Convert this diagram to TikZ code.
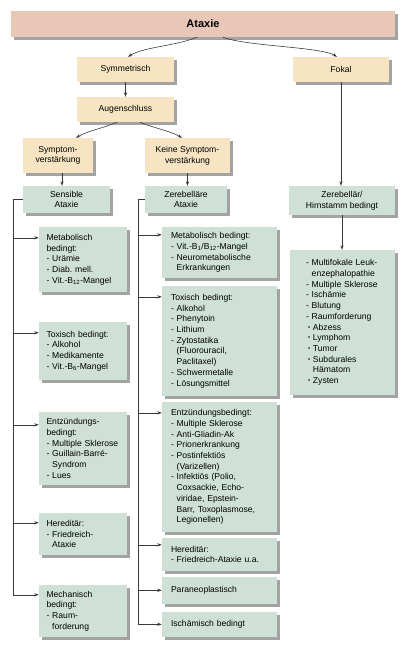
\documentclass[tikz,border=0pt]{standalone}
\usepackage{fontspec}
\setmainfont{Liberation Sans}
\usetikzlibrary{positioning,shadows,arrows.meta}
\definecolor{kopf}{HTML}{E8C6B8}
\definecolor{gelb}{HTML}{F6E4C2}
\definecolor{gruen}{HTML}{CFE1D7}
\definecolor{linie}{HTML}{3A3A3A}
\newcommand\ein{\hphantom{-\ }}
\newcommand\bul{\hspace*{2pt}\raisebox{0.9pt}{\fontsize{6}{6}\selectfont\textbullet}\ }

\begin{document}
\begin{tikzpicture}[x=1pt,y=-1pt]
    \tikzset{
        kasten/.style={fill=#1,inner sep=0pt,font=\fontsize{8.6}{10.7}\selectfont,
            drop shadow={shadow xshift=3pt,shadow yshift=-3pt,fill=black!36,opacity=1}},
        mitte/.style={kasten=#1,align=center},
        links/.style={kasten=gruen,align=left,text width=73,inner xsep=7.5,minimum width=88},
        mittel/.style={kasten=gruen,align=left,text width=97,inner xsep=9,minimum width=115},
        pfeil/.style={draw=linie,line width=0.6pt,-{Stealth[length=4.5pt,width=3.2pt]}},
        linie/.style={draw=linie,line width=0.6pt}}
    \useasboundingbox (0,0) rectangle (409,651);
    % oben
    \node[mitte=kopf,minimum width=384,minimum height=26,font=\fontsize{11}{13}\selectfont\bfseries] (ataxie) at (203,24) {Ataxie};
    \node[mitte=gelb,minimum width=97,minimum height=25] (sym) at (125.5,69.5) {Symmetrisch};
    \node[mitte=gelb,minimum width=96,minimum height=25] (fokal) at (341,69.5) {Fokal};
    \node[mitte=gelb,minimum width=97,minimum height=25] (auge) at (125.5,109.5) {Augenschluss};
    \node[mitte=gelb,minimum width=70,minimum height=35] (sv) at (58,155.5) {Symptom-\\verstärkung};
    \node[mitte=gelb,minimum width=85,minimum height=35] (ksv) at (187.5,155.5) {Keine Symptom-\\verstärkung};
    \node[mitte=gruen,minimum width=87,minimum height=27] (sens) at (66.5,199.5) {Sensible\\Ataxie};
    \node[mitte=gruen,minimum width=82,minimum height=27] (zer) at (186,199.5) {Zerebelläre\\Ataxie};
    \node[mitte=gruen,minimum width=106,minimum height=29] (zh) at (342,200.5) {Zerebellär/\\Hirnstamm bedingt};
    % links
    \node[links,minimum height=65] (lmet) at (83,259.5) {Metabolisch\\bedingt:\\- Urämie\\- Diab.\ mell.\\- Vit.-B\textsubscript{12}-Mangel};
    \node[links,minimum height=58] (ltox) at (83,351) {Toxisch bedingt:\\- Alkohol\\- Medikamente\\- Vit.-B\textsubscript{6}-Mangel};
    \node[links,minimum height=73] (lentz) at (83,448.5) {Entzündungs-\\bedingt:\\- Multiple Sklerose\\- Guillain-Barré-\\\ein Syndrom\\- Lues};
    \node[links,minimum height=42] (lher) at (83,534) {Hereditär:\\- Friedreich-\\\ein Ataxie};
    \node[links,minimum height=52] (lmech) at (83,611) {Mechanisch\\bedingt:\\- Raum-\\\ein forderung};
    % mitte
    \node[mittel,minimum height=51] (mmet) at (219.5,252.5) {Metabolisch bedingt:\\- Vit.-B\textsubscript{1}/B\textsubscript{12}-Mangel\\- Neurometabolische\\\ein Erkrankungen};
    \node[mittel,minimum height=110] (mtox) at (219.5,341) {Toxisch bedingt:\\- Alkohol\\- Phenytoin\\- Lithium\\- Zytostatika\\\ein(Fluorouracil,\\\ein Paclitaxel)\\- Schwermetalle\\- Lösungsmittel};
    \node[mittel,minimum height=130] (mentz) at (219.5,467) {Entzündungsbedingt:\\- Multiple Sklerose\\- Anti-Gliadin-Ak\\- Prionerkrankung\\- Postinfektiös\\\ein(Varizellen)\\- Infektiös (Polio,\\\ein Coxsackie, Echo-\\\ein viridae, Epstein-\\\ein Barr, Toxoplasmose,\\\ein Legionellen)};
    \node[mittel,minimum height=33] (mher) at (219.5,554.5) {Hereditär:\\- Friedreich-Ataxie u.a.};
    \node[mittel,minimum height=27] (mpar) at (219.5,590.5) {Paraneoplastisch};
    \node[mittel,minimum height=25] (misc) at (219.5,624.5) {Ischämisch bedingt};
    % rechts
    \node[kasten=gruen,align=left,text width=73,inner xsep=16,minimum height=145] (flist) at (342.5,322.5) {- Multifokale Leuk-\\\ein enzephalopathie\\- Multiple Sklerose\\- Ischämie\\- Blutung\\- Raumforderung\\\bul Abzess\\\bul Lymphom\\\bul Tumor\\\bul Subdurales\\\hphantom{\bul}Hämatom\\\bul Zysten};
    % pfeile
    \draw[pfeil] ([xshift=-6pt]ataxie.south) .. controls +(-22,9) and +(16,-10) .. ([xshift=2.5pt]sym.north);
    \draw[pfeil] ([xshift=20pt]ataxie.south) .. controls +(22,9) and +(-16,-10) .. ([xshift=-4pt]fokal.north);
    \draw[pfeil] (sym) -- (auge);
    \draw[pfeil] ([xshift=-8.5pt]auge.south) .. controls +(-14,6) and +(12,-7) .. ([xshift=18pt]sv.north);
    \draw[pfeil] ([xshift=14.5pt]auge.south) .. controls +(14,6) and +(-12,-7) .. ([xshift=-5.5pt]ksv.north);
    \draw[pfeil] ([xshift=4pt]sv.south) -- ([xshift=4pt]sv.south |- sens.north);
    \draw[pfeil] (ksv.south) -- (ksv.south |- zer.north);
    \draw[pfeil] (fokal.south) -- (fokal.south |- zh.north);
    \draw[pfeil] (zh.south) -- (zh.south |- flist.north);
    \coordinate (lstamm) at (13,0);
    \coordinate (mstamm) at (138,0);
    \foreach \n/\d in {lmet/11,ltox/11,lentz/13,lher/10,lmech/10,mmet/8,mtox/11,mentz/11,mher/7,mpar/13.5,misc/12.5}
        \coordinate (\n-in) at ([yshift=-\d pt]\n.north west);
    \draw[linie] (sens.west) -- (sens.west -| lstamm) -- (lmech-in -| lstamm);
    \draw[linie] (zer.west) -- (zer.west -| mstamm) -- (misc-in -| mstamm);
    \foreach \n in {lmet,ltox,lentz,lher,lmech}
        \draw[pfeil] (\n-in -| lstamm) -- (\n-in);
    \foreach \n in {mmet,mtox,mentz,mher,mpar,misc}
        \draw[pfeil] (\n-in -| mstamm) -- (\n-in);
\end{tikzpicture}
\end{document}
